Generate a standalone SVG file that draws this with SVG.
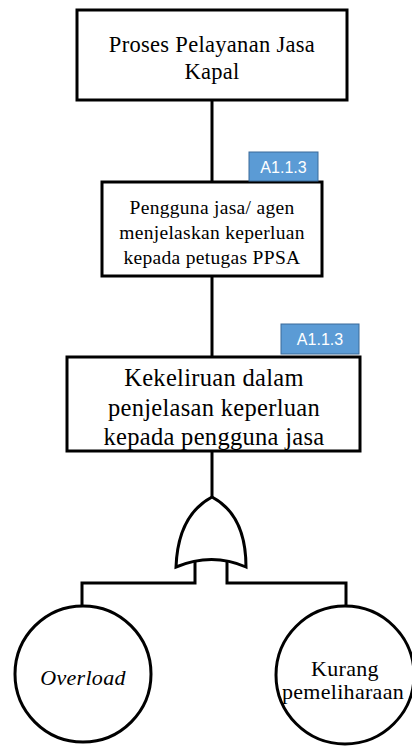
<svg xmlns="http://www.w3.org/2000/svg" width="412" height="746" viewBox="0 0 412 746">
  <style>
    .box { fill: #ffffff; stroke: #000000; stroke-width: 3; }
    .wire { fill: none; stroke: #000000; stroke-width: 3; }
    .label { font-family: "Liberation Serif", "Times New Roman", serif; fill: #000000; text-anchor: middle; letter-spacing: 0.3px; }
    .badge rect { fill: #5b9bd5; stroke: #3a6a99; stroke-width: 1; }
    .badge text { font-family: "Liberation Sans", Arial, sans-serif; font-size: 16px; fill: #ffffff; text-anchor: middle; }
  </style>
  <rect width="412" height="746" fill="#ffffff"/>

  <!-- connectors -->
  <g id="connectors" class="wire">
    <line x1="212" y1="100" x2="212" y2="182"/>
    <line x1="212" y1="276" x2="212" y2="357"/>
    <line x1="212" y1="451" x2="212" y2="497"/>
    <polyline points="195,562 195,583 82,583 82,605"/>
    <polyline points="227,562 227,583 346,583 346,606"/>
  </g>

  <!-- top event -->
  <g id="node-proses">
    <rect class="box" x="77" y="10" width="270" height="90"/>
    <text class="label" font-size="22.5" x="212" y="52">Proses Pelayanan Jasa</text>
    <text class="label" font-size="22.5" x="212" y="79">Kapal</text>
  </g>

  <!-- intermediate event -->
  <g id="node-pengguna">
    <rect class="box" x="102" y="182" width="220" height="94"/>
    <text class="label" font-size="19.5" x="212" y="214">Pengguna jasa/ agen</text>
    <text class="label" font-size="19.5" x="212" y="239">menjelaskan keperluan</text>
    <text class="label" font-size="19.5" x="212" y="264">kepada petugas PPSA</text>
  </g>
  <g id="badge-1" class="badge">
    <rect x="249" y="152" width="69" height="29"/>
    <text x="283.5" y="173">A1.1.3</text>
  </g>

  <!-- error event -->
  <g id="node-kekeliruan">
    <rect class="box" x="67" y="357" width="293" height="94"/>
    <text class="label" font-size="24.5" x="214" y="386">Kekeliruan dalam</text>
    <text class="label" font-size="24.5" x="214" y="416">penjelasan keperluan</text>
    <text class="label" font-size="24.5" x="214" y="445">kepada pengguna jasa</text>
  </g>
  <g id="badge-2" class="badge">
    <rect x="281" y="324" width="78" height="30"/>
    <text x="320" y="345">A1.1.3</text>
  </g>

  <!-- OR gate -->
  <g id="gate-or">
    <path class="box" d="M176,567 Q178,515 212,497 Q246,515 246,567 Q212,552 176,567 Z"/>
  </g>

  <!-- basic events -->
  <g id="node-overload">
    <circle class="box" cx="83" cy="674" r="68"/>
    <text class="label" font-size="22" font-style="italic" x="83" y="685">Overload</text>
  </g>
  <g id="node-kurang">
    <circle class="box" cx="345" cy="675" r="69"/>
    <text class="label" font-size="22" x="345" y="676">Kurang</text>
    <text class="label" font-size="22" letter-spacing="0.8" x="343" y="699">pemeliharaan</text>
  </g>
</svg>
